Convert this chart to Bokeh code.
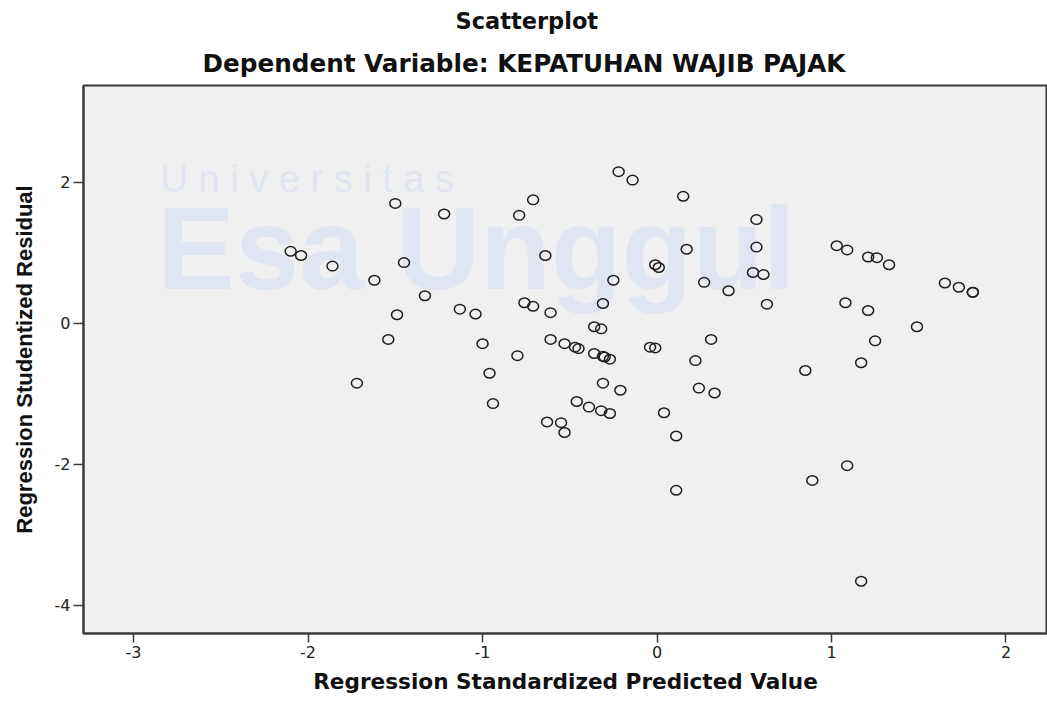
from bokeh.plotting import figure
from bokeh.models import Range1d, FixedTicker, Label, Title, ColumnDataSource
from bokeh.embed import file_html
from bokeh.resources import INLINE

# ---- data ----
predicted = [-2.10, -2.04, -1.86, -1.62, -1.72, -0.22, -0.14, -1.50, -1.22, -0.71,
             -0.79, -1.45, -0.64, -0.01, 0.01, -0.25, -1.33, -1.49, -1.13, -1.04,
             -0.76, -0.71, -0.61, -0.31, -0.36, -0.32, -1.54, -1.00, -0.61, -0.53,
             -0.47, -0.45, -0.36, -0.31, -0.30, -0.27, -0.04, -0.01, -0.80, -0.96,
             -0.31, -0.21, -0.94, -0.46, -0.39, -0.32, -0.27, -0.63, -0.55, -0.53,
             0.15, 0.57, 0.17, 0.57, 0.55, 0.61, 0.27, 0.41, 0.63, 1.03,
             1.09, 1.21, 1.26, 1.33, 1.65, 1.73, 1.81, 1.81, 1.08, 1.21,
             1.49, 0.31, 1.25, 0.22, 1.17, 0.85, 0.24, 0.33, 0.04, 0.11,
             1.09, 0.89, 0.11, 1.17]
residual = [1.02, 0.96, 0.81, 0.61, -0.85, 2.15, 2.03, 1.70, 1.55, 1.75,
            1.53, 0.86, 0.96, 0.83, 0.79, 0.61, 0.39, 0.12, 0.20, 0.13,
            0.29, 0.24, 0.15, 0.28, -0.05, -0.08, -0.23, -0.29, -0.23, -0.29,
            -0.34, -0.36, -0.43, -0.47, -0.48, -0.51, -0.34, -0.35, -0.46, -0.71,
            -0.85, -0.95, -1.14, -1.11, -1.19, -1.24, -1.28, -1.40, -1.41, -1.55,
            1.80, 1.47, 1.05, 1.08, 0.72, 0.69, 0.58, 0.46, 0.27, 1.10,
            1.04, 0.94, 0.93, 0.83, 0.57, 0.51, 0.44, 0.44, 0.29, 0.18,
            -0.05, -0.23, -0.25, -0.53, -0.56, -0.67, -0.92, -0.99, -1.27, -1.60,
            -2.02, -2.23, -2.37, -3.66]
x_ticks = [-3, -2, -1, 0, 1, 2]
y_ticks = [-4, -2, 0, 2]

title_text = "Scatterplot"
subtitle_text = "Dependent Variable: KEPATUHAN WAJIB PAJAK"
x_label = "Regression Standardized Predicted Value"
y_label = "Regression Studentized Residual"

# ---- layout geometry (figure pixels) ----
W, H = 1047, 703
FL, FR, FT, FB = 83, 1047, 85, 633
X0, X1 = -3.287, 2.238
Y0, Y1 = -4.401, 3.372


def px_x(sx):
    return X0 + (sx - FL) * (X1 - X0) / (FR - FL)


def px_y(sy):
    return Y1 - (sy - FT) * (Y1 - Y0) / (FB - FT)


source = ColumnDataSource(data=dict(x=predicted, y=residual))

p = figure(width=W, height=H, output_backend="svg", toolbar_location=None,
           x_range=Range1d(X0, X1), y_range=Range1d(Y0, Y1),
           min_border=0, min_border_left=FL, min_border_right=0,
           min_border_bottom=H - FB, min_border_top=FT)

p.background_fill_color = "#f0f0f0"
p.border_fill_color = "white"
p.outline_line_color = "#3a3a3a"
p.outline_line_width = 2
p.grid.visible = False

# titles (p.title is the outer one)
p.title.text = title_text
p.title.align = "left"
p.title.offset = 372
p.title.standoff = 11
p.title.text_font = "DejaVu Sans"
p.title.text_font_size = "22.5px"
p.title.text_font_style = "bold"
p.title.text_color = "#111111"
p.add_layout(Title(text=subtitle_text, align="left", offset=119, standoff=15,
                   text_font="DejaVu Sans", text_font_size="24.7px",
                   text_font_style="bold", text_color="#111111"), "above")

# axes
for ax in (p.xaxis[0], p.yaxis[0]):
    ax.axis_line_color = "#3a3a3a"
    ax.axis_line_width = 2
    ax.major_tick_line_color = "#3a3a3a"
    ax.major_tick_line_width = 1.5
    ax.major_tick_in = 0
    ax.minor_tick_line_color = None
    ax.major_label_text_font = "DejaVu Sans"
    ax.major_label_text_font_size = "16px"
    ax.major_label_text_color = "#222222"
    ax.major_label_standoff = 3
    ax.axis_label_text_font_style = "bold"
    ax.axis_label_text_color = "#111111"

p.xaxis.ticker = FixedTicker(ticks=x_ticks)
p.yaxis.ticker = FixedTicker(ticks=y_ticks)
p.xaxis.major_label_overrides = {t: str(t) for t in x_ticks}
p.yaxis.major_label_overrides = {t: str(t) for t in y_ticks}
p.xaxis.major_tick_out = 9
p.yaxis.major_tick_out = 10
p.xaxis.axis_label = x_label
p.xaxis.axis_label_text_font = "DejaVu Sans"
p.xaxis.axis_label_text_font_size = "21.6px"
p.xaxis.axis_label_standoff = 8
p.yaxis.axis_label = y_label
p.yaxis.axis_label_text_font = "Liberation Sans"
p.yaxis.axis_label_text_font_size = "22px"
p.yaxis.axis_label_standoff = 15

# faint watermark (behind the points)
wm = "#dfe6f1"
p.add_layout(Label(x=px_x(157), y=px_y(248), text="Esa Unggul", text_font="Liberation Sans",
                   text_font_size="116px", text_font_style="bold", text_color=wm,
                   text_baseline="middle", level="underlay"))
p.add_layout(Label(x=px_x(160), y=px_y(178), text="U n i v e r s i t a s",
                   text_font="Liberation Sans", text_font_size="38px", text_color=wm,
                   text_baseline="middle", level="underlay"))

# points: open circles
p.ellipse(x="x", y="y", width=11, height=9.5, width_units="screen", height_units="screen",
          source=source, fill_color=None, line_color="#1e1e1e", line_width=1.5)

open("out.html", "w").write(file_html(p, INLINE))
